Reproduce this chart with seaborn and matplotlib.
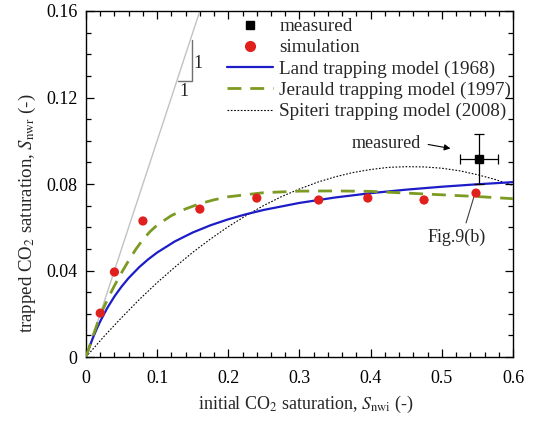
import matplotlib
matplotlib.use("Agg")
import matplotlib.pyplot as plt
from matplotlib.lines import Line2D
from matplotlib.ticker import MultipleLocator, FixedLocator
import seaborn as sns
import pandas as pd

# --- data -------------------------------------------------------------
# simulated trapped saturation vs initial saturation
sim_snwi = [0.02, 0.04, 0.08, 0.16, 0.24, 0.327, 0.396, 0.475, 0.548]
sim_snwr = [0.0203, 0.0393, 0.0629, 0.0684, 0.0735, 0.0726, 0.0735, 0.0726, 0.0758]

# core-flood measurement with error bars
meas_snwi = [0.552]
meas_snwr = [0.0915]
meas_xerr = [0.027]
meas_yerr = [0.0115]

# Land trapping model (1968)
land_snwi = [0.0, 0.005, 0.01, 0.015, 0.02, 0.03, 0.04, 0.05, 0.06, 0.075, 0.0875,
             0.1, 0.125, 0.15, 0.175, 0.2, 0.225, 0.25, 0.3, 0.35, 0.4, 0.45, 0.5, 0.55, 0.6]
land_snwr = [0.0, 0.00475, 0.00903, 0.01293, 0.01647, 0.02271, 0.02801, 0.03257, 0.03654,
             0.04161, 0.04519, 0.04831, 0.05348, 0.05758, 0.06092, 0.06369, 0.06603,
             0.06803, 0.07126, 0.07376, 0.07576, 0.07739, 0.07874, 0.07988, 0.08086]

# Jerauld trapping model (1997)
jer_snwi = [0.0, 0.01, 0.02, 0.03, 0.04, 0.05, 0.06, 0.07, 0.08, 0.09, 0.1, 0.12, 0.14,
            0.16, 0.18, 0.2, 0.25, 0.3, 0.35, 0.4, 0.45, 0.5, 0.55, 0.6]
jer_snwr = [0.0, 0.0099, 0.0192, 0.0265, 0.0330, 0.0390, 0.0446, 0.0498, 0.0543, 0.0580,
            0.0610, 0.0654, 0.0685, 0.0709, 0.0727, 0.0741, 0.0760, 0.0767, 0.0768, 0.0766,
            0.0758, 0.0750, 0.0742, 0.0732]

# Spiteri trapping model (2008)
spi_snwi = [0.0, 0.025, 0.05, 0.075, 0.1, 0.125, 0.15, 0.175, 0.2, 0.225, 0.25, 0.275,
            0.3, 0.325, 0.35, 0.375, 0.4, 0.425, 0.45, 0.475, 0.5, 0.525, 0.55, 0.575, 0.6]
spi_snwr = [0.0, 0.0094, 0.0182, 0.0266, 0.0344, 0.0416, 0.0484, 0.0546, 0.0603, 0.0654,
            0.0701, 0.0742, 0.0777, 0.0808, 0.0833, 0.0853, 0.0867, 0.0877, 0.0880, 0.0879,
            0.0873, 0.0861, 0.0843, 0.0821, 0.0793]

# unit-slope reference line
unit_snwi = [0.0, 0.16]
unit_snwr = [0.0, 0.16]

legend_labels = ["measured", "simulation", "Land trapping model (1968)",
                 "Jerauld trapping model (1997)", "Spiteri trapping model (2008)"]

# --- style --------------------------------------------------------------
sns.set_theme(style="ticks")
plt.rcParams["font.family"] = ["Liberation Serif", "DejaVu Serif"]
plt.rcParams["mathtext.fontset"] = "stix"
plt.rcParams["axes.linewidth"] = 1.0

RED = "#e0201c"
BLUE = "#1c1cc8"
GREEN = "#7d9a23"

fig = plt.figure(figsize=(5.35, 4.23), dpi=100)
ax = fig.add_axes([0.1607, 0.156, 0.7982, 0.818])

# unit-slope line and its slope triangle
sns.lineplot(x=unit_snwi, y=unit_snwr, ax=ax, color="#c2c2c2", lw=1.0, zorder=1)
ax.plot([0.130, 0.1488, 0.1488], [0.1278, 0.1278, 0.1464], color="#707070", lw=1.0, zorder=1)
ax.text(0.1568, 0.1358, "1", fontsize=13, ha="center", va="center")
ax.text(0.137, 0.1230, "1", fontsize=13, ha="center", va="center")

# model curves
sns.lineplot(data=pd.DataFrame({"x": spi_snwi, "y": spi_snwr}), x="x", y="y", ax=ax,
             color="black", lw=0.8, linestyle=(0, (1.5, 1.5)), sort=False, zorder=2)
sns.lineplot(data=pd.DataFrame({"x": land_snwi, "y": land_snwr}), x="x", y="y", ax=ax,
             color=BLUE, lw=1.6, sort=False, zorder=3)
sns.lineplot(data=pd.DataFrame({"x": jer_snwi, "y": jer_snwr}), x="x", y="y", ax=ax,
             color=GREEN, lw=2.0, linestyle=(0, (5, 3.2)), sort=False, zorder=3)

# simulation points
sns.scatterplot(x=sim_snwi, y=sim_snwr, ax=ax, color=RED, s=44, edgecolor="none", zorder=5)

# measurement with error bars
ax.errorbar(meas_snwi, meas_snwr, xerr=meas_xerr, yerr=meas_yerr, fmt="s", color="black",
            ms=5.5, lw=0.9, capsize=3.5, capthick=0.9, zorder=6)

# annotations
ax.annotate("", xy=(0.516, 0.0962), xytext=(0.477, 0.0985),
            arrowprops=dict(arrowstyle="-|>", color="black", lw=0.8, mutation_scale=9))
ax.text(0.470, 0.0985, "measured", fontsize=13, ha="right", va="center")
ax.plot([0.545, 0.534], [0.0740, 0.0620], color="#404040", lw=0.8)
ax.text(0.521, 0.0555, "Fig.9(b)", fontsize=13, ha="center", va="center")

# axes
ax.set_xlim(0, 0.6)
ax.set_ylim(0, 0.16)
ax.xaxis.set_major_locator(FixedLocator([0, 0.1, 0.2, 0.3, 0.4, 0.5, 0.6]))
ax.xaxis.set_minor_locator(MultipleLocator(0.02))
ax.yaxis.set_major_locator(FixedLocator([0, 0.04, 0.08, 0.12, 0.16]))
ax.yaxis.set_minor_locator(MultipleLocator(0.01))
ax.set_xticklabels(["0", "0.1", "0.2", "0.3", "0.4", "0.5", "0.6"])
ax.set_yticklabels(["0", "0.04", "0.08", "0.12", "0.16"])
ax.tick_params(which="both", direction="in", top=True, right=True, width=0.9,
               labelsize=13, colors="black")
ax.tick_params(which="major", length=6)
ax.tick_params(which="minor", length=3.5)
ax.tick_params(axis="x", which="major", pad=9)
ax.tick_params(axis="y", which="major", pad=6)
for s in ax.spines.values():
    s.set_color("black")

ax.set_xlabel(r"initial CO$_2$ saturation, $S_{\mathrm{nwi}}$ (-)", fontsize=13,
              labelpad=5, x=0.516)
ax.set_ylabel(r"trapped CO$_2$ saturation, $S_{\mathrm{nwr}}$ (-)", fontsize=13.6,
              labelpad=6, y=0.415)

handles = [
    Line2D([], [], marker="s", color="black", ls="none", ms=5.5),
    Line2D([], [], marker="o", color=RED, ls="none", ms=7),
    Line2D([], [], color=BLUE, lw=1.6),
    Line2D([], [], color=GREEN, lw=2.0, ls=(0, (5, 3.2))),
    Line2D([], [], color="black", lw=0.8, ls=(0, (1.5, 1.5))),
]
ax.legend(handles, legend_labels, loc="upper right", bbox_to_anchor=(1.018, 1.008),
          frameon=False, fontsize=13.8, handlelength=2.4, handletextpad=0.35,
          labelspacing=0.2, borderaxespad=0.2, borderpad=0.3)

fig.savefig("out.png", dpi=100)
